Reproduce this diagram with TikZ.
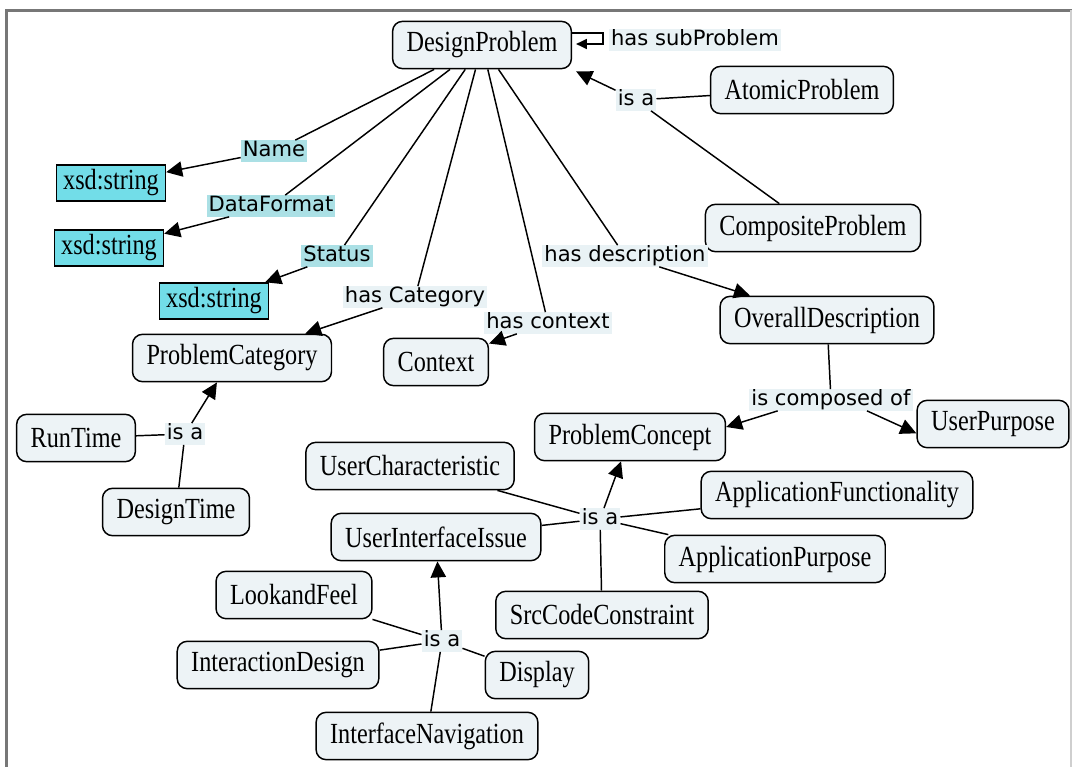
\documentclass[tikz,border=0pt]{standalone}
\usepackage{fontspec}
\setmainfont{Liberation Serif}[FakeStretch=0.83]
\newfontfamily\linkfont{DejaVu Sans}
\usetikzlibrary{arrows.meta}
\definecolor{conceptfill}{HTML}{EDF3F6}
\definecolor{xsdfill}{HTML}{72DDE8}
\definecolor{linkfill}{HTML}{E9F2F5}
\definecolor{propfill}{HTML}{ABE0E5}
\definecolor{framegray}{HTML}{777777}

\begin{document}
\begin{tikzpicture}[x=0.75pt,y=-0.75pt,
  concept/.style={draw=black, line width=1.1pt, fill=conceptfill,
    rounded corners=7.5pt, minimum height=35.5pt, inner xsep=10.5pt,
    font=\fontsize{21.9}{24}\selectfont},
  datatype/.style={draw=black, line width=1.1pt, fill=xsdfill,
    minimum height=27pt, inner xsep=5pt,
    font=\fontsize{21.9}{24}\selectfont},
  link/.style={fill=linkfill, inner xsep=1.5pt, inner ysep=0.6pt,
    text height=11.5pt, text depth=3.2pt,
    font=\linkfont\fontsize{15.8}{18}\selectfont},
  prop/.style={link, fill=propfill},
  conn/.style={line width=1.1pt},
  arr/.style={conn, -{Triangle[length=12pt,width=11.5pt]}},
  loopArr/.style={conn, -{Triangle[length=8pt,width=7.5pt]}},
]
\useasboundingbox (0,0) rectangle (1072,767);

% outer frame
\draw[framegray, line width=1.6pt] (6.5,767) -- (6.5,10.5) -- (1072,10.5);
\draw[framegray!35, line width=0.8pt] (1071,10.5) -- (1071,767);

% concepts
\node[concept] (DP)   at (482,45)  {DesignProblem};
\node[concept] (AP)   at (802,90)  {AtomicProblem};
\node[concept] (CP)   at (813,228) {CompositeProblem};
\node[datatype] (xsd1) at (111,183) {xsd:string};
\node[datatype] (xsd2) at (109,248) {xsd:string};
\node[datatype] (xsd3) at (214,301) {xsd:string};
\node[concept] (PCat) at (232,358) {ProblemCategory};
\node[concept] (Ctx)  at (436,362) {Context};
\node[concept] (OD)   at (827,320) {OverallDescription};
\node[concept] (UP)   at (993,424) {UserPurpose};
\node[concept] (PCon) at (630,437) {ProblemConcept};
\node[concept] (RT)   at (76,438)  {RunTime};
\node[concept] (DT)   at (176,512) {DesignTime};
\node[concept] (UC)   at (410,466) {UserCharacteristic};
\node[concept] (UII)  at (436,537) {UserInterfaceIssue};
\node[concept] (LF)   at (294,595) {LookandFeel};
\node[concept] (ID)   at (278,665) {InteractionDesign};
\node[concept] (Disp) at (537,675) {Display};
\node[concept] (IN)   at (427,736) {InterfaceNavigation};
\node[concept] (SCC)  at (602,615) {SrcCodeConstraint};
\node[concept] (AF)   at (837,495) {ApplicationFunctionality};
\node[concept] (APur) at (775,559) {ApplicationPurpose};

% linking phrases
\node[link] (lSub)   at (695,40)  {has subProblem};
\node[link] (isaTop) at (636,100) {is a};
\node[prop] (lName)  at (274,151) {Name};
\node[prop] (lDF)    at (271,206) {DataFormat};
\node[prop] (lStat)  at (337,256) {Status};
\node[link] (lCat)   at (415,297) {has Category};
\node[link] (lCtx)   at (548,323) {has context};
\node[link] (lDesc)  at (625,256) {has description};
\node[link] (lComp)  at (831,400) {is composed of};
\node[link] (isaRT)  at (185,434) {is a};
\node[link] (isaPC)  at (600,519) {is a};
\node[link] (isaUII) at (442,641) {is a};

% self relation
\draw[loopArr] ([yshift=9pt]DP.east) -- ++(31,0) -- ++(0,11)
  -- ([xshift=3pt,yshift=0.75pt]DP.east);

% properties of DesignProblem
\draw[conn] (DP) -- (lName);  \draw[arr] (lName) -- (xsd1);
\draw[conn] (DP) -- (lDF);    \draw[arr] (lDF) -- (xsd2);
\draw[conn] (DP) -- (lStat);  \draw[arr] (lStat) -- (xsd3);
\draw[conn] (DP) -- (lCat);   \draw[arr] (lCat) -- (PCat);
\draw[conn] (DP) -- (lCtx);   \draw[arr] (lCtx) -- (Ctx);
\draw[conn] (DP) -- (lDesc);  \draw[arr] (lDesc) -- (OD);

% subclasses of DesignProblem
\draw[conn] (AP) -- (isaTop);
\draw[conn] (CP) -- (isaTop);
\draw[arr] (isaTop) -- ([xshift=3pt,yshift=-1.5pt]DP.south east);

% composition of the description
\draw[conn] (OD) -- (lComp);
\draw[arr] ([xshift=-40pt]lComp.south) -- ([yshift=7.5pt]PCon.east);
\draw[arr] ([xshift=27pt]lComp.south) -- ([yshift=-7pt]UP.west);

% categories
\draw[conn] (RT) -- (isaRT);
\draw[conn] (DT) -- (isaRT);
\draw[arr] (isaRT) -- (PCat);

% kinds of problem concept
\draw[conn] (UC) -- (isaPC);
\draw[conn] (UII) -- (isaPC);
\draw[conn] (AF) -- (isaPC);
\draw[conn] (APur) -- (isaPC);
\draw[conn] (SCC) -- (isaPC);
\draw[arr] (isaPC) -- (PCon);

% kinds of user interface issue
\draw[conn] (LF) -- (isaUII);
\draw[conn] (ID) -- (isaUII);
\draw[conn] (Disp) -- (isaUII);
\draw[conn] (IN) -- (isaUII);
\draw[arr] (isaUII) -- (UII);
\end{tikzpicture}
\end{document}
